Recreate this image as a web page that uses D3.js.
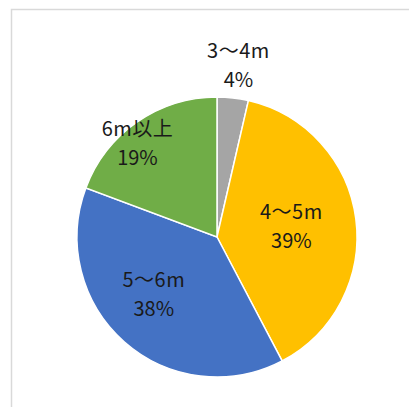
<!DOCTYPE html>
<html>
<head>
<meta charset="utf-8">
<script src="https://cdn.jsdelivr.net/npm/d3@7"></script>
<style>
  html, body { margin: 0; padding: 0; background: #fff; }
  svg { display: block; }
</style>
</head>
<body>
<div class="piechart"></div>
<script>
var categories = ["3～4m", "4～5m", "5～6m", "6m以上"],
    values = [3.6, 38.7, 38.4, 19.3],
    pctLabels = ["4%", "39%", "38%", "19%"],
    colors = ["#a5a5a5", "#ffc000", "#4472c4", "#70ad47"];

var width = 409,
    height = 407,
    cx = 217,
    cy = 237,
    radius = 140;

// label placement (radius from centre, then small nudge), like Excel's best fit
var labelRadius = [172, 75, 85, 122],
    labelNudge = [[2, 0], [0, 0], [-7, -6], [-10, 7]];

var svg = d3.select(".piechart")
    .append("svg")
    .attr("width", width)
    .attr("height", height);

// chart area border (only left and top edges show)
svg.append("path")
    .attr("d", "M11.5,407V9.5H409")
    .attr("fill", "none")
    .attr("stroke", "#d9d9d9")
    .attr("stroke-width", "1.5px");

var pie = d3.pie()
    .sort(null)
    .value(function(d){ return d; });

var arcs = pie(values);

var arc = d3.arc()
    .innerRadius(0)
    .outerRadius(radius);

var g = svg.append("g")
    .attr("transform", "translate(" + cx + "," + cy + ")");

g.selectAll("path")
    .data(arcs)
    .enter()
    .append("path")
    .attr("d", arc)
    .attr("fill", function(d, i){ return colors[i]; })
    .attr("stroke", "#fff")
    .attr("stroke-width", "1.5px");

var labels = g.selectAll("text")
    .data(arcs)
    .enter()
    .append("text")
    .attr("transform", function(d, i){
      var a = (d.startAngle + d.endAngle) / 2;
      var x = Math.sin(a) * labelRadius[i] + labelNudge[i][0];
      var y = -Math.cos(a) * labelRadius[i] + labelNudge[i][1];
      return "translate(" + x + "," + y + ")";
    })
    .attr("text-anchor", "middle")
    .style("font-family", "'Noto Sans CJK JP', 'Noto Sans', sans-serif")
    .style("font-size", "20px")
    .attr("fill", "#1a1a1a");

labels.append("tspan")
    .attr("x", 0)
    .attr("y", -8)
    .style("letter-spacing", "0.5px")
    .text(function(d, i){ return categories[i]; });

labels.append("tspan")
    .attr("x", 0)
    .attr("y", 21)
    .text(function(d, i){ return pctLabels[i]; });
</script>
</body>
</html>
